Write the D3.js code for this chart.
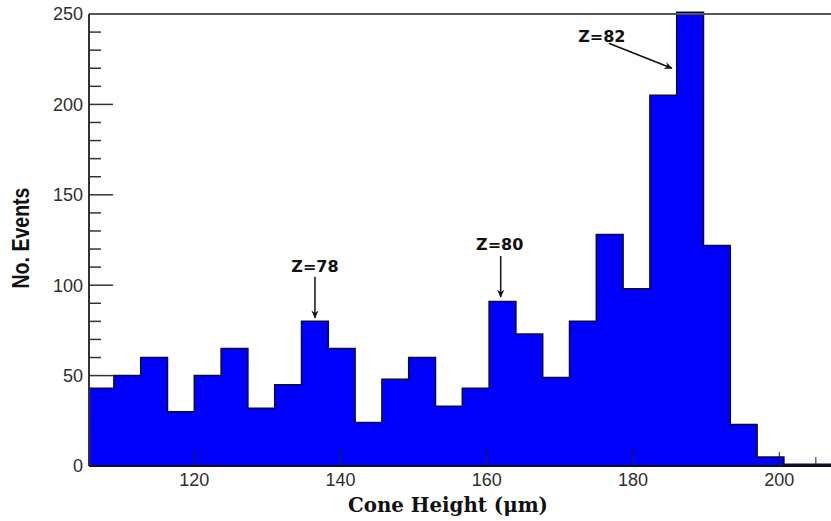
<!DOCTYPE html>
<html>
<head>
<meta charset="utf-8">
<script src="https://cdn.jsdelivr.net/npm/d3@7"></script>
<style>
  body { margin: 0; background: #fff; }
  .tick-label { font-family: "Liberation Sans", Arial, sans-serif; font-size: 18px; fill: #2e2e2e; }
  .note { font-family: "DejaVu Sans", sans-serif; font-weight: bold; font-size: 16px; fill: #111; }
</style>
</head>
<body>
<div id="chart"></div>
<script>
var width = 831, height = 521;
var margin = {left: 89, top: 14, right: 0, bottom: 55};

// histogram: first bin edge, bin width, counts
var binStart = 105.34;
var binWidth = 3.665;
var counts = [43, 50, 60, 30, 50, 65, 32, 45, 80, 65, 24, 48, 60, 33,
              43, 91, 73, 49, 80, 128, 98, 205, 251, 122, 23, 5, 1, 1];

var xTicks = [120, 140, 160, 180, 200];
var yTicks = [0, 50, 100, 150, 200, 250];

var notes = [{label: "Z=78", x: 136.5, y: 82},
             {label: "Z=80", x: 161.9, y: 93.5},
             {label: "Z=82", x: 185.3, y: 220}];

var x = d3.scaleLinear().domain([105.6, 207.07]).range([margin.left, width]);
var y = d3.scaleLinear().domain([0, 250]).range([height - margin.bottom, margin.top]);

var svg = d3.select("#chart").append("svg")
    .attr("width", width).attr("height", height);

var defs = svg.append("defs");
defs.append("clipPath").attr("id", "plot")
  .append("rect")
    .attr("x", margin.left).attr("y", 0)
    .attr("width", width - margin.left).attr("height", y(0));
defs.append("marker")
    .attr("id", "arrow")
    .attr("viewBox", "0 -5 10 10")
    .attr("refX", 9).attr("refY", 0)
    .attr("markerWidth", 8).attr("markerHeight", 8)
    .attr("markerUnits", "userSpaceOnUse")
    .attr("orient", "auto")
  .append("path")
    .attr("d", "M0,-4.5L10,0L0,4.5L3,0Z")
    .attr("fill", "#111");

// y ticks (behind bars), pointing into the plot
var yMinor = d3.range(0, 251, 10);
svg.append("g").selectAll("line")
  .data(yMinor)
  .enter().append("line")
    .attr("x1", margin.left)
    .attr("x2", d => margin.left + (d % 50 === 0 ? 24 : 12))
    .attr("y1", d => y(d)).attr("y2", d => y(d))
    .attr("stroke", "#333").attr("stroke-width", 1.5);

// minor x ticks (behind bars)
svg.append("g").selectAll("line")
  .data(d3.range(110, 207, 5).filter(d => d % 20 !== 0))
  .enter().append("line")
    .attr("x1", d => x(d)).attr("x2", d => x(d))
    .attr("y1", y(0)).attr("y2", y(0) - 9)
    .attr("stroke", "#222").attr("stroke-width", 1);

// histogram as step outline
var pts = [];
counts.forEach(function(c, i) {
  var x0 = binStart + i * binWidth;
  pts.push([x0, c]);
  pts.push([x0 + binWidth, c]);
});

var area = d3.area()
    .x(d => x(d[0]))
    .y0(y(0))
    .y1(d => y(d[1]));
var line = d3.line()
    .x(d => x(d[0]))
    .y(d => y(d[1]));

var g = svg.append("g").attr("clip-path", "url(#plot)");
g.append("path").datum(pts)
    .attr("d", area)
    .attr("fill", "#0000ff");
g.append("path").datum(pts)
    .attr("d", line)
    .attr("fill", "none")
    .attr("stroke", "#0a0a40")
    .attr("stroke-width", 1.5);

// frame
svg.append("line")
    .attr("x1", margin.left).attr("x2", width)
    .attr("y1", y(250)).attr("y2", y(250))
    .attr("stroke", "#555").attr("stroke-width", 2);
svg.append("line")
    .attr("x1", margin.left).attr("x2", width)
    .attr("y1", y(0)).attr("y2", y(0))
    .attr("stroke", "#111").attr("stroke-width", 2);
svg.append("line")
    .attr("x1", margin.left).attr("x2", margin.left)
    .attr("y1", y(250)).attr("y2", y(0))
    .attr("stroke", "#333").attr("stroke-width", 2);

// major x ticks (over bars)
svg.append("g").selectAll("line")
  .data(xTicks)
  .enter().append("line")
    .attr("x1", d => x(d)).attr("x2", d => x(d))
    .attr("y1", y(0)).attr("y2", y(0) - 14)
    .attr("stroke", "#222").attr("stroke-width", 1);

svg.append("g").selectAll("text")
  .data(xTicks)
  .enter().append("text")
    .attr("class", "tick-label")
    .attr("x", d => x(d))
    .attr("y", y(0) + 20)
    .attr("text-anchor", "middle")
    .text(d => d);

svg.append("g").selectAll("text")
  .data(yTicks)
  .enter().append("text")
    .attr("class", "tick-label")
    .attr("x", margin.left - 6)
    .attr("y", d => y(d))
    .attr("dy", "0.36em")
    .attr("text-anchor", "end")
    .text(d => d);

// axis titles
svg.append("text")
    .attr("transform", "translate(29,238) rotate(-90)")
    .attr("text-anchor", "middle")
    .attr("font-family", "'Liberation Sans', Arial, sans-serif")
    .attr("font-weight", "bold")
    .attr("font-size", 23)
    .attr("textLength", 101)
    .attr("lengthAdjust", "spacingAndGlyphs")
    .attr("fill", "#111")
    .text("No. Events");

svg.append("text")
    .attr("x", 448).attr("y", 512)
    .attr("text-anchor", "middle")
    .attr("font-family", "'DejaVu Serif', serif")
    .attr("font-weight", "bold")
    .attr("font-size", 21)
    .attr("textLength", 200)
    .attr("lengthAdjust", "spacingAndGlyphs")
    .attr("fill", "#111")
    .text("Cone Height (μm)");

// annotations
var offsets = [{tx: 0, ty: -46, sx: 0, sy: -41},
               {tx: -1, ty: -47, sx: 0, sy: -41},
               {tx: -70, ty: -26, sx: -63, sy: -25}];
var ann = svg.append("g").selectAll("g")
  .data(notes)
  .enter().append("g");
ann.append("line")
    .attr("x1", (d, i) => x(d.x) + offsets[i].sx)
    .attr("y1", (d, i) => y(d.y) + offsets[i].sy)
    .attr("x2", d => x(d.x))
    .attr("y2", d => y(d.y))
    .attr("stroke", "#111")
    .attr("stroke-width", 1.5)
    .attr("marker-end", "url(#arrow)");
ann.append("text")
    .attr("class", "note")
    .attr("x", (d, i) => x(d.x) + offsets[i].tx)
    .attr("y", (d, i) => y(d.y) + offsets[i].ty)
    .attr("text-anchor", "middle")
    .text(d => d.label);
</script>
</body>
</html>
